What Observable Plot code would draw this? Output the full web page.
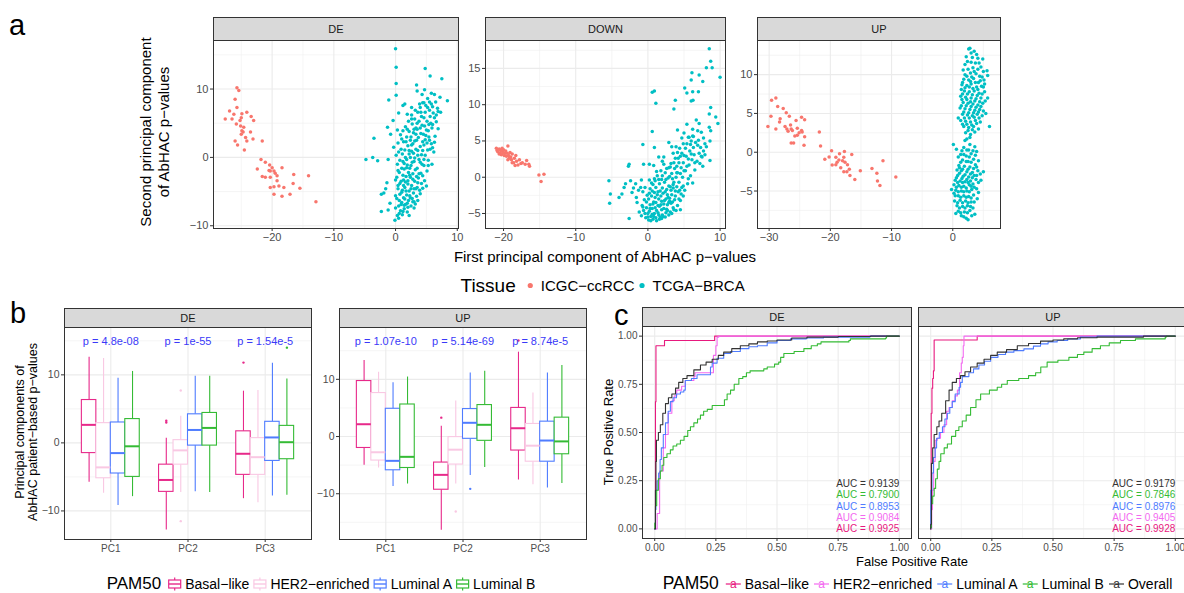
<!DOCTYPE html>
<html><head><meta charset="utf-8">
<script src="https://cdn.jsdelivr.net/npm/d3@7"></script>
<script src="https://cdn.jsdelivr.net/npm/@observablehq/plot@0.6"></script>
<style>
body{margin:0;background:#fff;font-family:"Liberation Sans",Arial,Helvetica,sans-serif;}
#root{position:relative;width:1184px;height:593px;overflow:hidden;background:#fff;}
.strip{position:absolute;background:#D9D9D9;border:1px solid #333;box-sizing:border-box;font-size:11px;color:#1a1a1a;display:flex;align-items:center;justify-content:center;z-index:2;}
</style></head><body><div id="root"></div>
<script>
// ---------------- DATA ----------------
const tissues = ["ICGC\u2212ccRCC", "TCGA\u2212BRCA"];
const tissueColors = ["#F8766D", "#00BFC4"];
const facetsA = ["DE", "DOWN", "UP"];
const facetsBC = ["DE", "UP"];

// Panel a: PCA of AbHAC p-values [PC1, PC2]
const deRed = [[-25.7,10.2],[-25.4,9.8],[-26.0,8.5],[-25.7,7.3],[-26.9,6.8],[-26.2,6.3],[-27.6,5.6],[-26.5,5.6],[-25.2,5.4],[-25.0,5.8],[-24.1,6.6],[-24.9,6.4],[-23.4,6.0],[-23.0,5.4],[-25.8,4.9],[-25.1,4.6],[-24.6,4.4],[-24.9,3.9],[-24.7,3.7],[-24.3,2.9],[-25.0,3.4],[-23.5,3.7],[-23.1,2.7],[-26.0,2.4],[-25.6,1.8],[-24.1,2.4],[-24.5,1.1],[-21.6,2.4],[-21.8,-0.3],[-22.4,-1.7],[-21.1,-0.7],[-20.4,-1.1],[-20.0,-1.5],[-20.3,-2.0],[-19.7,-2.0],[-19.5,-2.3],[-19.2,-2.7],[-18.4,-1.5],[-21.6,-2.8],[-21.1,-2.9],[-20.3,-2.9],[-19.2,-3.4],[-20.3,-4.4],[-19.7,-4.3],[-18.9,-4.2],[-18.1,-4.4],[-16.5,-2.5],[-16.6,-3.8],[-17.1,-5.4],[-18.4,-5.7],[-14.1,-2.7],[-15.5,-4.5],[-12.9,-6.5],[-19.7,-5.4],[-20.5,-1.9]];
const deCyan = [[0,15.9],[0.1,13.2],[0.1,10.8],[3.4,10.6],[4.8,13],[5.6,11.9],[7.5,11.5],[0.1,9.1],[-1.1,8.4],[3.5,9.7],[4.7,9.9],[8.4,8.3],[7.2,8.8],[6.3,9.2],[-4.8,-0.3],[-3.5,2.8],[-3.7,0],[-2.9,-0.5],[-1.3,4.4],[-0.8,3.4],[-0.4,5.4],[-2.3,-5.4],[-2.3,-7.9],[-1.2,-7.7],[-0.9,-6.7],[-0.1,-9.2],[0.6,-8.2],[-1.4,-3.7],[-1.6,-4.6],[-1.9,-5.2],[-0.3,1.5],[-1.2,-0.3],[0.5,6.5],[1.5,7.8],[1.2,7.6],[2.6,7.3],[6.9,6.7],[7.3,6.6],[5.9,4.3],[6.3,5.8],[5.4,3.0],
[0.3,-8.5],[0.8,-7.8],[0.5,-7.1],[1.0,-6.6],[0.2,-6.0],[0.7,-5.4],[1.1,-4.8],[0.4,-4.1],[0.9,-3.5],[0.2,-2.9],[0.6,-2.2],[1.0,-1.6],[0.3,-1.0],[0.7,-0.4],[0.1,0.3],[0.9,1.2],[0.4,2.1],[0.8,3.3],
[1.4,-7.5],[1.9,-8.0],[1.6,-6.9],[2.1,-6.3],[1.3,-5.9],[1.8,-5.5],[2.2,-4.9],[1.5,-4.4],[2.0,-3.9],[1.3,-3.3],[1.7,-2.8],[2.1,-2.2],[1.4,-1.7],[1.9,-1.1],[1.2,-0.6],[1.6,0.0],[2.2,0.5],[1.5,1.1],[2.0,1.7],[1.3,2.3],[1.8,3.0],[2.2,3.8],[1.6,4.5],[2.1,5.3],[1.4,-7.0],[2.0,-7.3],
[2.5,-7.1],[3.0,-6.5],[2.4,-5.9],[2.9,-5.2],[3.3,-4.6],[2.6,-4.1],[3.1,-3.5],[2.4,-2.9],[2.8,-2.4],[3.2,-1.8],[2.5,-1.2],[3.0,-0.6],[2.4,0.0],[2.9,0.6],[3.3,1.2],[2.6,1.8],[3.1,2.4],[2.5,3.0],[2.9,3.6],[3.3,4.3],[2.7,4.9],[3.1,5.6],[2.6,6.2],[3.2,-6.8],[2.7,-6.0],
[3.6,-6.3],[4.0,-5.3],[3.5,-4.4],[4.2,-3.8],[3.7,-3.0],[4.1,-2.3],[3.5,-1.6],[4.3,-1.0],[3.8,-0.3],[4.2,0.4],[3.6,1.0],[4.0,1.6],[4.4,2.3],[3.7,2.9],[4.1,3.5],[3.5,4.1],[4.3,4.7],[3.8,5.3],[4.2,6.0],[3.6,6.6],[4.0,7.3],[4.4,8.0],[3.9,-4.8],
[4.7,-3.4],[5.1,-2.0],[4.6,-1.2],[5.3,-0.4],[4.8,0.3],[5.2,1.1],[4.6,1.8],[5.5,2.5],[4.9,3.2],[5.3,3.9],[4.7,4.6],[5.1,5.3],[5.6,6.0],[4.8,6.6],[5.2,7.3],[5.5,8.1],[4.6,8.0],[5.0,-4.2],[5.4,4.8],
[5.9,-1.0],[6.2,0.8],[5.8,2.0],[6.4,3.1],[6.0,4.8],[6.6,5.2],[6.1,6.5],[6.8,7.2],[5.8,7.8],[6.5,8.1],[6.9,4.2],[6.3,2.2],
[0.5,-8.9],[1.1,-8.4],[0.0,-7.4],[1.2,-7.9],[0.6,-6.3],[1.5,-6.1],[0.0,-5.6],[1.0,-5.1],[0.4,-4.6],[1.3,-4.1],[0.7,-3.8],[0.0,-3.3],[1.2,-2.6],[0.4,-1.9],[1.4,-0.9],[0.5,0.8],[1.1,0.5],[1.0,2.7],[0.3,4.0],[1.2,3.9],[1.9,-6.7],[2.3,-5.6],[1.7,-4.9],[2.5,-4.6],[2.0,-3.4],[2.3,-2.6],[1.8,-1.5],[2.3,-1.6],[1.8,-0.3],[2.6,0.9],[1.7,2.3],[2.4,2.5],[1.9,4.1],[2.6,5.6],[1.9,6.3],[2.8,-6.5],[3.4,-5.7],[3.0,-4.6],[3.6,-3.7],[2.8,-3.2],[3.4,-2.8],[3.1,-0.1],[3.6,0.3],[2.8,2.0],[3.4,2.5],[3.0,4.1],[3.5,5.0],[3.2,6.9],[3.9,7.8],[4.4,-2.7],[3.8,-2.4],[4.6,-0.3],[4.4,1.0],[4.8,2.6],[4.5,3.4],[4.0,4.3],[4.6,5.8],[4.1,6.6],[4.9,7.6],[5.3,-1.2],[5.6,1.2],[5.0,4.0],[5.7,5.0],[5.5,6.9],[6.0,7.4],[4.4,-4.5],[3.0,-7.4],[2.2,-8.5],[0.9,-6.9],[1.6,-3.6],[2.7,-0.7],[4.0,-0.7],[3.3,3.4],[2.2,1.0],[5.1,2.1],[6.0,1.4],[6.6,6.2],[5.2,8.6],[4.3,9.2],[5.8,9.4]];
const downRed = [[-21,4.0],[-20.9,3.7],[-20.8,3.5],[-20.6,3.9],[-20.5,3.3],[-20.4,3.7],[-20.3,3.1],[-20.2,3.6],[-20.1,3.4],[-20.0,3.8],[-19.9,3.0],[-19.8,3.3],[-19.7,3.6],[-19.6,2.9],[-19.5,3.3],[-19.4,4.3],[-19.3,3.0],[-19.2,2.6],[-19.1,3.4],[-19.0,2.8],[-18.9,2.4],[-18.8,3.2],[-18.6,2.0],[-18.5,2.6],[-18.3,3.0],[-18.2,2.2],[-18.0,1.7],[-17.8,2.4],[-17.6,1.9],[-17.4,2.0],[-17.0,1.8],[-16.8,2.3],[-16.5,1.8],[-16.4,1.5],[-18.4,1.6],[-19.4,2.4],[-20.6,3.2],[-20.2,4.0],[-18.8,2.0],[-15.1,0.3],[-14.4,0.4],[-14.8,-0.6]];
const downCyan = [[8.5,17.7],[8.7,16.0],[8.9,15.1],[8.1,15.1],[10.0,13.8],[6.1,14.4],[7.1,14.1],[7.6,13.2],[6.0,13.4],[5.1,12.3],[5.4,11.6],[6.2,11.8],[7.0,11.8],[6.0,10.5],[6.25,10.6],[0.9,11.9],[0.6,11.7],[1.1,10.2],[3.8,10.6],[3.6,9.4],[8.7,9.6],[9.4,8.3],[8.5,8.7],[9.7,7.4],[6.7,7.9],[7.1,7.4],[4.1,6.5],[0.6,6.3],[5.0,6.1],[7.4,6.2],[8.5,6.9],[8.7,6.4],[8.6,5.0],[5.7,5.5],[6.2,5.7],[6.9,6.4],[-0.7,4.5],[0.9,4.1],[2.9,4.8],[7.3,4.1],[7.9,4.6],[7.5,2.8],[8.6,2.3],[-2.6,1.8],[-2.7,1.5],[-5.4,-0.5],[-5.3,-3.6],[-5.2,-2.3],[-4.0,-2.8],[-3.6,-2.3],[-2.6,-5.7],[-3.3,-1.4],[-3.1,-0.9],[-2.4,-0.5],[-1.7,-0.9],[-2.2,-2.1],[-1.0,-1.4],[-0.6,1.8],[0.2,1.8],[0.8,1.6],[1.5,2.8],[2.2,2.8],
[-0.9,-5.3],[-0.6,-4.6],[-0.3,-5.6],[-0.8,-3.9],[-0.2,-4.2],[-0.5,-3.1],[-0.1,-2.5],[-0.7,-2.0],[0.0,-5.0],[-0.4,-1.4],[-1.2,-4.8],[-1.5,-3.5],
[0.1,-5.9],[0.4,-5.4],[0.7,-5.8],[0.2,-4.7],[0.6,-4.3],[0.9,-5.0],[0.3,-3.8],[0.8,-3.4],[0.1,-3.0],[0.5,-2.6],[0.9,-2.1],[0.3,-1.6],[0.7,-1.0],[0.2,-0.4],[0.9,-0.2],[0.6,-5.1],
[1.1,-5.6],[1.5,-5.2],[1.9,-5.7],[1.2,-4.6],[1.6,-4.0],[1.9,-4.5],[1.1,-3.5],[1.5,-3.0],[1.9,-3.3],[1.3,-2.4],[1.7,-1.9],[1.1,-1.4],[1.6,-0.9],[1.9,-0.3],[1.3,0.2],[1.8,0.9],[1.4,-4.9],[1.7,-5.5],
[2.1,-5.4],[2.5,-4.9],[2.9,-5.2],[2.2,-4.3],[2.7,-3.8],[2.3,-3.2],[2.8,-2.8],[2.1,-2.2],[2.6,-1.7],[2.9,-1.2],[2.3,-0.7],[2.8,-0.1],[2.4,0.6],[2.9,1.3],[2.2,1.8],[2.6,-4.4],[2.9,-3.5],
[3.1,-4.8],[3.5,-4.2],[3.9,-4.6],[3.2,-3.6],[3.7,-3.1],[3.3,-2.4],[3.8,-1.9],[3.1,-1.3],[3.6,-0.7],[3.9,0.0],[3.3,0.5],[3.7,1.2],[3.2,1.9],[3.8,2.6],[3.5,3.3],[3.0,-2.9],[3.5,-1.5],
[4.1,-3.9],[4.5,-3.2],[4.9,-2.6],[4.2,-2.0],[4.7,-1.4],[4.3,-0.7],[4.8,0.0],[4.1,0.6],[4.6,1.3],[4.9,2.0],[4.2,2.6],[4.7,3.3],[4.4,4.0],[4.9,4.6],[4.5,-4.5],[4.0,1.5],
[5.1,-1.8],[5.5,-0.9],[5.9,0.2],[5.2,0.9],[5.7,1.7],[6.1,2.4],[5.3,2.9],[5.8,3.6],[6.3,4.1],[5.4,4.6],[6.0,5.0],[6.4,3.1],[5.6,-0.2],[6.6,4.8],
[6.8,2.2],[7.1,3.3],[6.9,4.4],[7.4,2.9],[7.7,3.6],[6.5,1.0],[7.0,5.1],[6.2,-0.8],[7.6,1.5],
[0.0,-5.5],[0.4,-6.0],[0.8,-5.4],[1.2,-6.0],[1.6,-5.8],[2.0,-5.2],[2.4,-5.5],[2.7,-4.6],[3.3,-5.0],[3.6,-4.5],[-0.4,-5.0],[-0.7,-4.1],[0.3,-4.3],[0.7,-3.7],[1.0,-4.2],[1.4,-3.9],[1.8,-3.8],[2.2,-3.7],[2.5,-3.0],[3.0,-3.3],[3.4,-3.4],[3.8,-2.6],[4.3,-3.0],[4.6,-2.3],[-0.2,-3.4],[0.2,-2.2],[0.6,-1.9],[1.0,-2.8],[1.4,-2.0],[1.8,-2.6],[2.0,-1.5],[2.4,-2.0],[2.7,-2.4],[3.2,-1.8],[3.5,-1.0],[4.0,-1.3],[4.4,-1.8],[4.9,-1.2],[0.5,-0.8],[1.0,-0.5],[1.5,-0.3],[2.0,0.2],[2.5,-0.3],[3.0,0.1],[3.4,-0.2],[4.0,0.6],[4.5,0.5],[5.0,0.9],[5.4,1.5],[1.2,0.8],[2.6,1.2],[3.1,1.4],[3.6,2.0],[4.3,2.0],[4.5,2.9],[5.0,3.0],[5.6,2.5],[4.1,3.4],[3.9,4.2],[5.2,4.0],[5.9,4.5],[6.3,5.6],[5.6,5.5],[6.0,3.2],[6.5,2.0],[7.2,1.9],[7.9,3.1],[7.7,5.4],[8.1,4.2],[6.2,6.6],[5.4,7.3],[4.7,5.4],[3.3,4.2],[2.0,2.2],[-1.3,-1.8],[-2.0,-1.5],[-1.6,-2.8],[-0.9,-0.4]];
const upRed = [[-29.6,6.7],[-28.9,7.0],[-29.7,4.65],[-30.2,3.3],[-28.9,3.0],[-28.6,5.9],[-27.7,5.65],[-28.2,4.3],[-28.3,3.9],[-27.2,5.1],[-26.7,4.65],[-27.4,3.3],[-27.1,3.0],[-26.5,3.5],[-26.4,3.0],[-26.2,2.8],[-26.9,2.7],[-25.6,4.1],[-25.4,3.1],[-24.7,4.5],[-24.2,4.2],[-24.7,2.8],[-25.1,2.5],[-25.8,2.1],[-25.4,2.2],[-24.2,2.0],[-24.3,0.9],[-26.4,1.2],[-26.0,1.2],[-24.6,2.6],[-21.8,2.6],[-21.6,0.8],[-20.9,-0.9],[-20.2,-0.6],[-19.8,0.2],[-19.7,-1.65],[-19.1,-0.65],[-18.9,-1.3],[-18.5,-0.2],[-18.6,-1.0],[-18.3,-2.0],[-17.8,-0.65],[-17.6,-1.3],[-17.7,0.1],[-17.2,-1.6],[-16.9,-2.2],[-16.8,-3.0],[-16.5,-0.3],[-17.3,-2.5],[-17.8,-2.5],[-16.0,-3.5],[-15.1,-2.4],[-13.2,-2.1],[-12.4,-2.7],[-12.3,-3.7],[-11.9,-4.3],[-11.4,-1.1],[-9.3,-3.2],[-19.1,-1.6],[-18.0,-1.1]];
const upCyan = [[2.6,13.3],[2.8,13.4],[3.5,13.0],[3.2,12.2],[4.1,12.1],[2.0,11.3],[3.7,11.5],[4.6,11.0],[2.5,10.7],[3.3,10.9],[5.0,10.4],[5.6,10.5],[2.0,10.0],[2.9,10.2],[3.8,10.1],[4.4,9.8],[1.8,9.4],[2.6,9.3],[3.4,9.5],[4.2,9.0],[5.1,9.3],[1.5,8.7],[2.3,8.6],[3.0,8.8],[3.9,8.4],[4.7,8.5],[1.9,7.9],[2.7,7.8],[3.5,7.9],[4.3,7.6],[5.2,7.8],[5.7,7.0],[1.3,7.2],[2.1,7.1],[3.0,7.0],[3.8,6.9],[4.6,7.0],[1.7,6.4],[2.5,6.3],[3.3,6.2],[4.1,6.1],[4.9,6.3],[1.2,5.7],[2.0,5.6],[2.8,5.5],[3.6,5.4],[4.4,5.5],[1.6,4.9],[2.4,4.8],[3.2,4.7],[4.0,4.9],[4.8,4.7],[1.3,4.1],[2.1,4.0],[2.9,3.9],[3.7,4.1],[4.5,3.9],[0.9,4.4],[1.8,3.3],[2.6,3.2],[3.4,3.3],[4.2,3.0],[6.0,3.3],[2.1,2.5],[2.9,2.3],[3.6,2.6],[2.3,1.7],[2.0,1.5],[1.6,3.6],[5.4,5.0],[3.0,11.6],[4.9,12.0],
[2.2,12.3],[3.0,12.8],[3.9,12.6],[2.4,11.7],[4.3,11.5],[1.7,10.6],[3.5,10.4],[4.1,10.7],[2.3,9.8],[3.1,9.7],[4.8,9.7],[1.6,9.0],[2.9,9.1],[3.7,9.0],[4.5,9.2],[2.0,8.3],[2.7,8.4],[3.3,8.2],[4.1,8.1],[5.0,8.4],[1.6,7.5],[2.4,7.5],[3.2,7.4],[4.0,7.3],[4.8,7.5],[1.5,6.8],[2.3,6.8],[2.9,6.5],[3.6,6.6],[4.4,6.5],[5.3,6.6],[1.4,6.0],[2.2,6.0],[3.0,5.9],[3.8,5.8],[4.6,5.9],[1.8,5.2],[2.6,5.1],[3.4,5.1],[4.2,5.2],[5.0,5.3],[1.9,4.4],[2.7,4.4],[3.5,4.5],[4.3,4.4],[2.3,3.6],[3.1,3.5],[3.9,3.7],[2.5,2.8],[3.2,2.9],[2.8,1.9],[5.2,8.8],[5.7,9.9],[1.4,8.1],
[0.1,1.0],[1.8,0.6],[2.6,0.3],[3.6,0.7],[3.9,0.1],[1.3,-0.3],[2.2,-0.5],[3.0,-0.2],[1.6,-1.0],[2.5,-1.2],[3.4,-0.9],[4.2,-1.1],[1.0,-1.7],[1.9,-1.8],[2.8,-1.9],[3.7,-1.6],[1.4,-2.4],[2.3,-2.5],[3.2,-2.6],[4.1,-2.4],[5.0,-2.5],[0.8,-3.0],[1.7,-3.1],[2.6,-3.2],[3.5,-3.0],[0.4,-3.6],[1.2,-3.7],[2.0,-3.8],[2.9,-3.7],[3.8,-3.5],[0.2,-4.2],[1.0,-4.3],[1.8,-4.4],[2.7,-4.2],[3.5,-4.5],[0.5,-4.9],[1.4,-5.0],[2.3,-5.0],[3.1,-4.8],[4.2,-5.2],[-0.2,-4.8],[0.9,-5.6],[1.8,-5.6],[2.6,-5.7],[3.4,-5.5],[0.3,-6.3],[1.2,-6.2],[2.1,-6.3],[3.0,-6.4],[4.0,-6.0],[0.7,-6.9],[1.6,-7.0],[2.4,-6.9],[3.3,-7.2],[0.9,-7.6],[1.9,-7.7],[2.8,-7.5],[1.4,-8.2],[2.2,-8.5],[2.5,-8.7],[3.6,-8.0],[0.5,-7.9],[2.8,1.0],[1.1,-2.0],[4.6,-3.6],
[0.6,0.4],[1.5,0.2],[2.3,0.3],[3.3,0.2],[0.9,-0.6],[1.8,-0.3],[2.7,-0.6],[3.7,-0.4],[1.3,-1.3],[2.2,-1.2],[3.0,-1.3],[3.9,-1.9],[0.7,-2.3],[1.6,-2.2],[2.5,-2.2],[3.4,-2.1],[4.5,-2.8],[1.1,-2.7],[2.0,-2.9],[2.9,-2.8],[3.9,-3.0],[0.6,-3.3],[1.5,-3.4],[2.3,-3.5],[3.2,-3.3],[4.2,-3.9],[0.8,-3.9],[1.6,-3.9],[2.5,-3.9],[3.3,-4.1],[0.6,-4.5],[1.4,-4.5],[2.2,-4.6],[3.0,-4.4],[3.9,-4.7],[0.9,-5.1],[1.8,-5.1],[2.7,-5.1],[0.4,-5.6],[1.3,-5.8],[2.2,-5.8],[3.0,-5.9],[0.8,-6.5],[1.6,-6.5],[2.5,-6.5],[3.5,-6.4],[1.1,-7.2],[2.0,-7.2],[2.9,-7.0],[1.3,-7.8],[2.4,-7.8],[1.8,-8.3],[3.1,-8.2],[0.2,-5.3]];

// Panel b: boxplots [PC, subtype, lower whisker, Q1, median, Q3, upper whisker]
const pcs = ["PC1", "PC2", "PC3"];
const pam50 = ["Basal-like", "HER2-enriched", "Luminal A", "Luminal B"];
const pam50Labels = ["Basal\u2212like", "HER2\u2212enriched", "Luminal A", "Luminal B"];
const boxColors = ["#E7298A", "#F9C8E3", "#4F7CFF", "#35BB35"];
const boxDE = [
 ["PC1","Basal-like",-5.8,-1.5,2.65,6.3,12.6],["PC1","HER2-enriched",-7.4,-5.2,-3.6,2.9,12.4],["PC1","Luminal A",-9.2,-4.5,-1.5,3.0,9.5],["PC1","Luminal B",-7.9,-5.0,-0.5,3.5,10.5],
 ["PC2","Basal-like",-12.8,-7.2,-5.45,-3.2,0.7],["PC2","HER2-enriched",-7.3,-3.2,-1.1,0.4,3.9],["PC2","Luminal A",-7.2,-0.4,1.9,4.2,9.8],["PC2","Luminal B",-7.3,-0.4,2.2,4.4,9.8],
 ["PC3","Basal-like",-8.2,-4.7,-1.6,1.7,7.6],["PC3","HER2-enriched",-8.8,-4.7,-2.1,0.7,7.7],["PC3","Luminal A",-7.8,-2.65,0.8,3.1,11.7],["PC3","Luminal B",-7.7,-2.4,0.1,2.5,9.4]];
const boxUP = [
 ["PC1","Basal-like",-5.0,-2.0,2.15,9.7,13.3],["PC1","HER2-enriched",-5.5,-4.2,-2.75,7.6,11.25],["PC1","Luminal A",-8.75,-5.9,-4.25,4.85,9.4],["PC1","Luminal B",-8.3,-5.5,-3.55,5.6,10.4],
 ["PC2","Basal-like",-16.4,-9.3,-6.7,-4.55,1.8],["PC2","HER2-enriched",-8.3,-4.9,-2.3,-0.1,6.2],["PC2","Luminal A",-6.8,-0.4,2.4,4.8,11.1],["PC2","Luminal B",-5.4,-0.75,2.05,5.5,11.4],
 ["PC3","Basal-like",-7.6,-2.45,1.45,5.0,14.75],["PC3","HER2-enriched",-8.45,-4.4,-1.6,2.2,7.6],["PC3","Luminal A",-9.0,-4.4,-0.7,2.6,11.1],["PC3","Luminal B",-8.2,-3.1,-0.85,3.3,12.4]];
const outDE = [["PC2","Basal-like",3.0],["PC2","Basal-like",3.25],["PC2","HER2-enriched",7.7],["PC2","HER2-enriched",-11.5],["PC3","Basal-like",11.8],["PC3","Luminal B",14.0]];
const outUP = [["PC2","Basal-like",3.3],["PC2","HER2-enriched",-13.1],["PC2","Luminal A",-9.15],["PC3","Basal-like",16.8]];
const pvalDE = ["p = 4.8e-08", "p = 1e-55", "p = 1.54e-5"];
const pvalUP = ["p = 1.07e-10", "p = 5.14e-69", "p = 8.74e-5"];

// Panel c: ROC curves [FPR, TPR]
const rocGroups = ["Basal-like", "HER2-enriched", "Luminal A", "Luminal B", "Overall"];
const rocLabels = ["Basal\u2212like", "HER2\u2212enriched", "Luminal A", "Luminal B", "Overall"];
const rocColors = ["#E7197E", "#F36AF0", "#4F7CFF", "#35BB35", "#333333"];
const deBasal = [[0,0],[0.003,0.66],[0.005,0.95],[0.04,0.95],[0.04,0.977],[0.245,0.977],[0.245,1],[1,1]];
const deHER2 = [[0,0],[0.01,0],[0.01,0.08],[0.02,0.08],[0.02,0.3],[0.035,0.3],[0.035,0.42],[0.044,0.49],[0.055,0.6],[0.07,0.665],[0.08,0.69],[0.09,0.72],[0.11,0.74],[0.125,0.77],[0.16,0.77],[0.16,0.79],[0.165,0.81],[0.235,0.81],[0.24,0.9],[0.25,0.95],[0.255,0.995],[0.262,1],[1,1]];
const deLumA = [[0,0],[0.003,0.1],[0.005,0.2],[0.01,0.25],[0.016,0.29],[0.022,0.36],[0.027,0.42],[0.035,0.49],[0.044,0.55],[0.055,0.61],[0.064,0.66],[0.075,0.68],[0.089,0.70],[0.105,0.71],[0.119,0.72],[0.125,0.77],[0.15,0.78],[0.173,0.80],[0.221,0.80],[0.228,0.84],[0.235,0.86],[0.255,0.885],[0.282,0.91],[0.31,0.92],[0.35,0.935],[0.385,0.945],[0.42,0.95],[0.46,0.965],[0.50,0.977],[0.555,0.986],[0.62,0.99],[0.69,0.995],[0.88,1],[1,1]];
const deLumB = [[0,0],[0,0.03],[0.003,0.12],[0.008,0.2],[0.015,0.26],[0.023,0.30],[0.03,0.33],[0.037,0.37],[0.05,0.39],[0.064,0.41],[0.075,0.43],[0.09,0.44],[0.105,0.46],[0.12,0.48],[0.135,0.51],[0.146,0.53],[0.16,0.55],[0.175,0.57],[0.187,0.59],[0.2,0.61],[0.215,0.62],[0.235,0.64],[0.282,0.64],[0.285,0.67],[0.296,0.70],[0.31,0.72],[0.325,0.75],[0.344,0.78],[0.36,0.79],[0.375,0.81],[0.39,0.82],[0.446,0.83],[0.46,0.84],[0.49,0.855],[0.507,0.865],[0.515,0.89],[0.528,0.91],[0.57,0.92],[0.61,0.935],[0.64,0.95],[0.665,0.96],[0.68,0.97],[0.794,0.977],[0.8,0.986],[0.944,0.99],[0.948,1],[1,1]];
const deOverall = [[0,0],[0.003,0.2],[0.005,0.35],[0.007,0.46],[0.015,0.5],[0.023,0.54],[0.033,0.6],[0.044,0.65],[0.056,0.68],[0.07,0.70],[0.085,0.73],[0.098,0.76],[0.115,0.78],[0.132,0.795],[0.16,0.825],[0.187,0.85],[0.21,0.865],[0.235,0.88],[0.26,0.9],[0.282,0.917],[0.315,0.935],[0.35,0.95],[0.385,0.96],[0.42,0.97],[0.46,0.975],[0.50,0.98],[0.56,0.99],[0.623,0.995],[0.75,0.998],[0.883,1],[1,1]];
const upBasal = [[0,0],[0.002,0.21],[0.002,0.6],[0.005,0.73],[0.008,0.78],[0.011,0.82],[0.014,0.98],[0.19,0.98],[0.19,1],[1,1]];
const upHER2 = [[0,0],[0.004,0.1],[0.007,0.2],[0.012,0.35],[0.018,0.46],[0.027,0.47],[0.04,0.5],[0.054,0.54],[0.065,0.61],[0.075,0.63],[0.088,0.665],[0.1,0.69],[0.109,0.72],[0.118,0.81],[0.125,0.86],[0.129,0.89],[0.133,0.95],[0.136,1],[1,1]];
const upLumA = [[0,0],[0,0.2],[0.005,0.29],[0.011,0.37],[0.018,0.42],[0.024,0.47],[0.035,0.5],[0.048,0.53],[0.058,0.57],[0.068,0.6],[0.078,0.63],[0.088,0.66],[0.1,0.7],[0.116,0.735],[0.122,0.76],[0.129,0.79],[0.156,0.81],[0.175,0.83],[0.197,0.85],[0.22,0.87],[0.245,0.89],[0.275,0.905],[0.306,0.917],[0.34,0.925],[0.381,0.934],[0.42,0.948],[0.449,0.96],[0.48,0.97],[0.517,0.977],[0.56,0.985],[0.612,0.995],[0.68,1],[1,1]];
const upLumB = [[0,0],[0,0.007],[0.003,0.13],[0.008,0.17],[0.014,0.21],[0.02,0.26],[0.027,0.31],[0.034,0.35],[0.041,0.39],[0.055,0.42],[0.068,0.44],[0.085,0.48],[0.102,0.51],[0.115,0.53],[0.129,0.56],[0.145,0.59],[0.163,0.63],[0.185,0.67],[0.204,0.70],[0.24,0.72],[0.272,0.735],[0.29,0.75],[0.313,0.77],[0.36,0.78],[0.4,0.795],[0.429,0.81],[0.45,0.84],[0.476,0.865],[0.52,0.875],[0.565,0.89],[0.6,0.905],[0.626,0.917],[0.66,0.935],[0.694,0.95],[0.73,0.965],[0.776,0.977],[0.837,0.986],[0.959,0.995],[0.963,1],[1,1]];
const upOverall = [[0,0],[0,0.024],[0.003,0.34],[0.008,0.42],[0.014,0.49],[0.025,0.53],[0.034,0.56],[0.045,0.6],[0.061,0.665],[0.075,0.72],[0.088,0.76],[0.105,0.78],[0.122,0.795],[0.14,0.815],[0.163,0.84],[0.19,0.86],[0.218,0.88],[0.245,0.9],[0.272,0.917],[0.31,0.93],[0.354,0.95],[0.4,0.962],[0.449,0.974],[0.5,0.98],[0.544,0.986],[0.6,0.992],[0.68,0.995],[0.87,1],[1,1]];
const aucDE = [0.9925, 0.9084, 0.8953, 0.7900, 0.9139]; // in rocGroups order
const aucUP = [0.9928, 0.9405, 0.8976, 0.7846, 0.9179];

// ---------------- DRAWING ----------------
const FONT = '"Liberation Sans", Arial, Helvetica, sans-serif';
const root = document.getElementById("root");
const SVGNS = "http://www.w3.org/2000/svg";

function strip(label, left, top, width, height) {
  const d = document.createElement("div");
  d.className = "strip";
  Object.assign(d.style, {left: left + "px", top: top + "px", width: width + "px", height: height + "px"});
  d.textContent = label;
  root.appendChild(d);
}

function panel(o) {
  const mL = o.mL ?? 34, mB = o.mB ?? 22, fs = o.fs ?? 11;
  const grid = [];
  if (o.xMinor) grid.push(Plot.gridX(o.xMinor, {stroke: "#EEEEEE", strokeOpacity: 1, strokeWidth: 0.6}));
  if (o.yMinor) grid.push(Plot.gridY(o.yMinor, {stroke: "#EEEEEE", strokeOpacity: 1, strokeWidth: 0.6}));
  grid.push(Plot.gridX(o.xt, {stroke: "#EBEBEB", strokeOpacity: 1, strokeWidth: 1.1}));
  grid.push(Plot.gridY(o.yt, {stroke: "#EBEBEB", strokeOpacity: 1, strokeWidth: 1.1}));
  const axes = [Plot.axisX(o.xt, {tickSize: 3, tickPadding: 2, fontSize: o.xfs ?? fs, tickFormat: o.xf, stroke: "#333333", color: "#4D4D4D", label: null})];
  if (!o.noY) axes.push(Plot.axisY(o.yt, {tickSize: 3, tickPadding: 2, fontSize: fs, tickFormat: o.yf, stroke: "#333333", color: "#4D4D4D", label: null}));
  const svg = Plot.plot({
    width: mL + o.w + 2, height: 1 + o.h + mB,
    marginLeft: mL, marginRight: 2, marginTop: 1, marginBottom: mB,
    style: {fontFamily: FONT, background: "transparent", overflow: "visible"},
    x: {domain: o.xd}, y: {domain: o.yd, axis: o.noY ? null : undefined},
    color: {type: "identity"},
    marks: [...grid, ...o.marks, Plot.frame({stroke: "#333333", strokeWidth: 1}), ...axes]
  });
  svg.style.position = "absolute";
  svg.style.left = (o.x0 - mL) + "px";
  svg.style.top = (o.y0 - 1) + "px";
  svg.style.maxWidth = "none";
  root.appendChild(svg);
  if (o.strip) strip(o.strip, o.x0, o.stripTop, o.w + 1, o.y0 - o.stripTop + 1);
}

const fInt = d3.format("d");
const dotOpts = (c) => ({x: d => d[0], y: d => d[1], r: 1.75, fill: c});

// Panel a
panel({x0: 213, y0: 40, w: 245, h: 188, xd: [-29.5, 10.2], yd: [-10.4, 17.1],
  xt: [-20, -10, 0, 10], yt: [-10, 0, 10], xMinor: [-25, -15, -5, 5], yMinor: [-5, 5, 15],
  xf: fInt, yf: fInt, strip: facetsA[0], stripTop: 17,
  marks: [Plot.dot(deRed, dotOpts(tissueColors[0])), Plot.dot(deCyan, dotOpts(tissueColors[1]))]});
panel({x0: 485, y0: 40, w: 240, h: 188, xd: [-22.5, 10.75], yd: [-7.07, 18.85],
  xt: [-20, -10, 0, 10], yt: [-5, 0, 5, 10, 15], xMinor: [-15, -5, 5], yMinor: [-2.5, 2.5, 7.5, 12.5, 17.5],
  xf: fInt, yf: fInt, strip: facetsA[1], stripTop: 17,
  marks: [Plot.dot(downRed, dotOpts(tissueColors[0])), Plot.dot(downCyan, dotOpts(tissueColors[1]))]});
panel({x0: 757, y0: 40, w: 243, h: 188, xd: [-31.9, 7.8], yd: [-9.83, 14.4],
  xt: [-30, -20, -10, 0], yt: [-5, 0, 5, 10], xMinor: [-25, -15, -5, 5], yMinor: [-7.5, -2.5, 2.5, 7.5, 12.5],
  xf: fInt, yf: fInt, strip: facetsA[2], stripTop: 17,
  marks: [Plot.dot(upRed, dotOpts(tissueColors[0])), Plot.dot(upCyan, dotOpts(tissueColors[1]))]});

// Panel b
const dodge = [-0.28125, -0.09375, 0.09375, 0.28125];
const bw = 0.1875;
function boxMarks(rows, outs, pvals) {
  const data = rows.map(r => ({pc: r[0], sub: r[1], lo: r[2], q1: r[3], med: r[4], q3: r[5], hi: r[6]}));
  const xc = d => pcs.indexOf(d.pc) + 1 + dodge[pam50.indexOf(d.sub)];
  const col = d => boxColors[pam50.indexOf(d.sub)];
  const od = outs.map(r => ({pc: r[0], sub: r[1], v: r[2]}));
  return [
    Plot.ruleX(data, {x: xc, y1: "lo", y2: "q1", stroke: col, strokeWidth: 1.1}),
    Plot.ruleX(data, {x: xc, y1: "q3", y2: "hi", stroke: col, strokeWidth: 1.1}),
    Plot.rect(data, {x1: d => xc(d) - bw / 2, x2: d => xc(d) + bw / 2, y1: "q1", y2: "q3", fill: "white", stroke: col, strokeWidth: 1.1}),
    Plot.ruleY(data, {y: "med", x1: d => xc(d) - bw / 2, x2: d => xc(d) + bw / 2, stroke: col, strokeWidth: 2}),
    Plot.dot(od, {x: xc, y: "v", r: 1.2, fill: col}),
    Plot.text(pvals, {x: (d, i) => i + 1, frameAnchor: "top", dy: 10, text: d => d, fill: "#3A3AF8", fontSize: 11})
  ];
}
panel({x0: 64, y0: 327, w: 247, h: 212, xd: [0.4, 3.6], yd: [-14.2, 16.96],
  xt: [1, 2, 3], yt: [-10, 0, 10], yMinor: [-5, 5, 15], xf: i => pcs[i - 1], yf: fInt, fs: 10.5, xfs: 10,
  strip: facetsBC[0], stripTop: 308, marks: boxMarks(boxDE, outDE, pvalDE)});
panel({x0: 339, y0: 327, w: 247, h: 212, xd: [0.4, 3.6], yd: [-18.0, 19.06],
  xt: [1, 2, 3], yt: [-10, 0, 10], yMinor: [-15, -5, 5, 15], xf: i => pcs[i - 1], yf: fInt, fs: 10.5, xfs: 10,
  strip: facetsBC[1], stripTop: 308, marks: boxMarks(boxUP, outUP, pvalUP)});

// Panel c
function rocMarks(curves, aucs) {
  const m = curves.map((c, i) => Plot.line(c, {x: d => d[0], y: d => d[1], stroke: rocColors[i], strokeWidth: 1.1, curve: "step-after"}));
  const order = [4, 3, 2, 1, 0]; // top to bottom: Overall, LumB, LumA, HER2, Basal
  order.forEach((gi, row) => {
    m.push(Plot.text([aucs[gi]], {x: 1, y: 0, text: d => "AUC = " + d.toFixed(4), textAnchor: "end",
      fill: rocColors[gi], fontSize: 10, dy: -(4 - row) * 11.2}));
  });
  return m;
}
const f2 = d3.format(".2f");
const q = [0, 0.25, 0.5, 0.75, 1], qm = [0.125, 0.375, 0.625, 0.875];
panel({x0: 642, y0: 326, w: 269, h: 212, xd: [-0.05, 1.05], yd: [-0.05, 1.05],
  xt: q, yt: q, xMinor: qm, yMinor: qm, xf: f2, yf: f2, fs: 10, strip: facetsBC[0], stripTop: 307,
  marks: rocMarks([deBasal, deHER2, deLumA, deLumB, deOverall], aucDE)});
panel({x0: 918, y0: 326, w: 269, h: 212, xd: [-0.05, 1.05], yd: [-0.05, 1.05], noY: true,
  xt: q, yt: q, xMinor: qm, yMinor: qm, xf: f2, yf: f2, fs: 10, strip: facetsBC[1], stripTop: 307,
  marks: rocMarks([upBasal, upHER2, upLumA, upLumB, upOverall], aucUP)});

// ---------- overlay: titles, axis titles, legends ----------
const ov = document.createElementNS(SVGNS, "svg");
ov.setAttribute("width", 1184); ov.setAttribute("height", 593);
Object.assign(ov.style, {position: "absolute", left: "0px", top: "0px", zIndex: 5, fontFamily: FONT});
root.appendChild(ov);
function txt(str, x, y, o = {}) {
  const t = document.createElementNS(SVGNS, "text");
  t.setAttribute("x", x); t.setAttribute("y", y);
  t.setAttribute("font-size", o.size ?? 12);
  t.setAttribute("fill", o.fill ?? "#000");
  t.setAttribute("text-anchor", o.anchor ?? "start");
  if (o.rotate) t.setAttribute("transform", `rotate(${o.rotate},${x},${y})`);
  t.textContent = str;
  ov.appendChild(t);
  return t;
}
function el(name, attrs) {
  const e = document.createElementNS(SVGNS, name);
  for (const k in attrs) e.setAttribute(k, attrs[k]);
  ov.appendChild(e);
  return e;
}
txt("a", 9, 35, {size: 29});
txt("b", 10, 323, {size: 29});
txt("c", 614, 325, {size: 29});
txt("Second principal component", 151, 132, {size: 15, anchor: "middle", rotate: -90});
txt("of AbHAC p\u2212values", 168.5, 132, {size: 15, anchor: "middle", rotate: -90});
txt("First principal component of AbHAC p\u2212values", 605, 262, {size: 15, anchor: "middle"});
txt("Principal components of", 24, 432, {size: 12.5, anchor: "middle", rotate: -90});
txt("AbHAC patient\u2212based p\u2212values", 37, 432, {size: 12.5, anchor: "middle", rotate: -90});
txt("True Positive Rate", 613, 432, {size: 13, anchor: "middle", rotate: -90});
txt("False Positive Rate", 912, 566, {size: 13, anchor: "middle"});

// Tissue legend
{
  let x = 460.5;
  const t = txt("Tissue", x, 292, {size: 19});
  x += t.getComputedTextLength() + 12;
  tissues.forEach((lab, i) => {
    el("circle", {cx: x + 2.5, cy: 285.5, r: 2.6, fill: tissueColors[i]});
    x += 13;
    const tt = txt(lab, x, 291, {size: 15});
    x += tt.getComputedTextLength() + 5;
  });
}
// PAM50 legend (boxplots)
{
  let x = 106.7; const base = 589, cy = 584;
  const t = txt("PAM50", x, base, {size: 17});
  x += t.getComputedTextLength() + 7;
  pam50Labels.forEach((lab, i) => {
    const c = boxColors[i];
    el("line", {x1: x + 6.5, x2: x + 6.5, y1: cy - 6.5, y2: cy + 6.5, stroke: c, "stroke-width": 1.2});
    el("rect", {x: x + 0.5, y: cy - 4, width: 12, height: 8, fill: "white", stroke: c, "stroke-width": 1.2});
    el("line", {x1: x + 0.5, x2: x + 12.5, y1: cy, y2: cy, stroke: c, "stroke-width": 1.4});
    x += 17;
    const tt = txt(lab, x, base, {size: 14});
    x += tt.getComputedTextLength() + 4;
  });
}
// PAM50 legend (ROC)
{
  let x = 662.7; const base = 589, cy = 584;
  const t = txt("PAM50", x, base, {size: 17.5});
  x += t.getComputedTextLength() + 7;
  rocLabels.forEach((lab, i) => {
    const c = rocColors[i];
    el("line", {x1: x, x2: x + 15, y1: cy, y2: cy, stroke: c, "stroke-width": 1.2});
    txt("a", x + 7.5, cy + 4, {size: 12, anchor: "middle", fill: c});
    x += 19;
    const tt = txt(lab, x, base, {size: 14});
    x += tt.getComputedTextLength() + 5;
  });
}
</script></body></html>
